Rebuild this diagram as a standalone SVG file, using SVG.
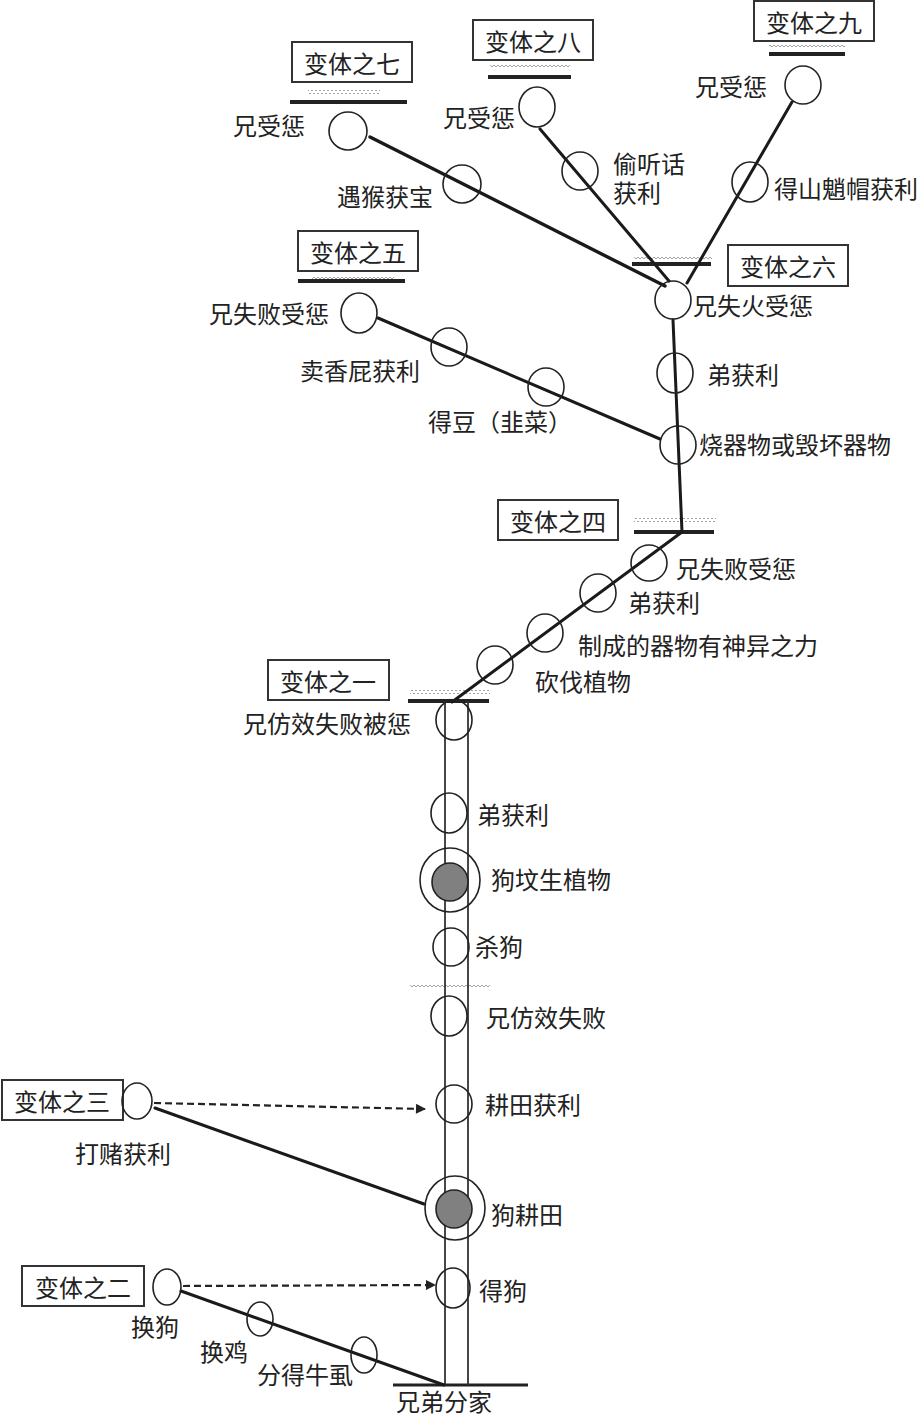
<svg xmlns="http://www.w3.org/2000/svg" width="921" height="1415" viewBox="0 0 921 1415">
<style>
text{font-family:"Noto Sans CJK SC","Liberation Sans",sans-serif;font-size:24px;fill:#222;dominant-baseline:central}
.bt{text-anchor:middle}
.box{fill:#fff;stroke:#333;stroke-width:2}
.nd{fill:none;stroke:#222;stroke-width:1.6}
.dot{fill:#808080;stroke:#222;stroke-width:1.6}
.edge{stroke:#1a1a1a;stroke-width:3;fill:none;stroke-linecap:round}
.bar{stroke:#222;stroke-width:4}
.trunk{stroke:#333;stroke-width:1.8}
.dash{stroke:#222;stroke-width:2.2;stroke-dasharray:7 4;fill:none}
.wv{fill:url(#wv)}
</style>
<defs>
<pattern id="wv" width="4" height="4" patternUnits="userSpaceOnUse"><path d="M0,3 L2,1 L4,3" fill="none" stroke="#999" stroke-width="0.9"/></pattern>
<marker id="arr" viewBox="0 0 10 10" refX="10" refY="5" markerWidth="13" markerHeight="10" markerUnits="userSpaceOnUse" orient="auto"><path d="M0,0 L10,5 L0,10 z" fill="#222"/></marker>
</defs>
<rect width="921" height="1415" fill="#fff"/>

<g id="connectors">
  <rect class="wv" x="308" y="90" width="72" height="4"/>
  <rect class="wv" x="490" y="65" width="80" height="4"/>
  <rect class="wv" x="769" y="43" width="76" height="4"/>
  <rect class="wv" x="312" y="275" width="82" height="4"/>
  <rect class="wv" x="634" y="257" width="78" height="4"/>
  <rect class="wv" x="634" y="518" width="82" height="4"/>
  <rect class="wv" x="410" y="690" width="80" height="4"/>
  <rect class="wv" x="410" y="984" width="80" height="4"/>
  <line class="bar" x1="290" y1="102" x2="407" y2="102"/>
  <line class="bar" x1="488" y1="77" x2="571" y2="77"/>
  <line class="bar" x1="769" y1="54" x2="845" y2="54"/>
  <line class="bar" x1="298" y1="281" x2="405" y2="281"/>
  <line class="bar" x1="632" y1="264" x2="711" y2="264"/>
  <line class="bar" x1="634" y1="532" x2="714" y2="532"/>
  <line class="bar" x1="408" y1="701" x2="489" y2="701"/>
  <line class="bar" x1="393" y1="1385" x2="528" y2="1385" style="stroke-width:3"/>
  <line class="edge" x1="370" y1="137" x2="665" y2="286" style="stroke-width:3.4"/>
  <line class="edge" x1="540" y1="129" x2="669" y2="281"/>
  <line class="edge" x1="792" y1="102" x2="687" y2="283"/>
  <line class="edge" x1="673" y1="320" x2="682" y2="532"/>
  <line class="edge" x1="378" y1="318" x2="660" y2="439"/>
  <line class="edge" x1="682" y1="532" x2="452" y2="702"/>
  <line class="trunk" x1="445" y1="701" x2="445" y2="1385"/>
  <line class="trunk" x1="468" y1="701" x2="468" y2="1385"/>
  <line class="dash" x1="154" y1="1103" x2="426" y2="1109" marker-end="url(#arr)"/>
  <line class="edge" x1="155" y1="1108" x2="424" y2="1204"/>
  <line class="dash" x1="183" y1="1286" x2="436" y2="1285" marker-end="url(#arr)"/>
  <line class="edge" x1="181" y1="1291" x2="444" y2="1385"/>
</g>

<g id="v7">
  <rect class="box" x="292" y="42" width="120" height="40"/>
  <text class="bt" x="352" y="62">变体之七</text>
</g>
<g id="n7a"><ellipse class="nd" cx="348" cy="131" rx="19" ry="19"/><text x="233" y="124">兄受惩</text></g>
<g id="n7b"><ellipse class="nd" cx="462" cy="184" rx="19" ry="19"/><text x="337" y="195">遇猴获宝</text></g>

<g id="v8">
  <rect class="box" x="473" y="20" width="120" height="40"/>
  <text class="bt" x="533" y="40">变体之八</text>
</g>
<g id="n8a"><ellipse class="nd" cx="537" cy="107" rx="18" ry="20"/><text x="443" y="116">兄受惩</text></g>
<g id="n8b"><ellipse class="nd" cx="580" cy="171" rx="18" ry="19"/><text x="613" y="162"><tspan x="613" y="162">偷听话</tspan><tspan x="613" y="191">获利</tspan></text></g>

<g id="v9">
  <rect class="box" x="754" y="1" width="120" height="40"/>
  <text class="bt" x="814" y="21">变体之九</text>
</g>
<g id="n9a"><ellipse class="nd" cx="803" cy="85" rx="18" ry="19"/><text x="695" y="85">兄受惩</text></g>
<g id="n9b"><ellipse class="nd" cx="750" cy="182" rx="18" ry="20"/><text x="774" y="187">得山魈帽获利</text></g>

<g id="v6">
  <rect class="box" x="728" y="245" width="120" height="41"/>
  <text class="bt" x="788" y="265">变体之六</text>
</g>
<g id="n6a"><ellipse class="nd" cx="673" cy="300" rx="18" ry="19"/><text x="693" y="304">兄失火受惩</text></g>
<g id="n6b"><ellipse class="nd" cx="675" cy="373" rx="18" ry="20"/><text x="707" y="373">弟获利</text></g>
<g id="n6c"><ellipse class="nd" cx="678" cy="445" rx="18" ry="19"/><text x="699" y="443">烧器物或毁坏器物</text></g>

<g id="v5">
  <rect class="box" x="298" y="231" width="120" height="40"/>
  <text class="bt" x="358" y="251">变体之五</text>
</g>
<g id="n5a"><ellipse class="nd" cx="359" cy="313" rx="18" ry="20"/><text x="209" y="312">兄失败受惩</text></g>
<g id="n5b"><ellipse class="nd" cx="449" cy="347" rx="18" ry="19"/><text x="300" y="369">卖香屁获利</text></g>
<g id="n5c"><ellipse class="nd" cx="546" cy="387" rx="18" ry="19"/><text x="428" y="420">得豆（韭菜）</text></g>

<g id="v4">
  <rect class="box" x="498" y="500" width="120" height="40"/>
  <text class="bt" x="558" y="520">变体之四</text>
</g>
<g id="n4a"><ellipse class="nd" cx="649" cy="563" rx="18" ry="18"/><text x="676" y="567">兄失败受惩</text></g>
<g id="n4b"><ellipse class="nd" cx="598" cy="593" rx="18" ry="19"/><text x="628" y="601">弟获利</text></g>
<g id="n4c"><ellipse class="nd" cx="545" cy="633" rx="18" ry="19"/><text x="578" y="644">制成的器物有神异之力</text></g>
<g id="n4d"><ellipse class="nd" cx="495" cy="665" rx="18" ry="19"/><text x="535" y="680">砍伐植物</text></g>

<g id="v1">
  <rect class="box" x="268" y="660" width="121" height="40"/>
  <text class="bt" x="328" y="680">变体之一</text>
</g>
<g id="n1a"><ellipse class="nd" cx="454" cy="720" rx="18" ry="20"/><text x="243" y="722">兄仿效失败被惩</text></g>
<g id="n1b"><ellipse class="nd" cx="449" cy="813" rx="18" ry="20"/><text x="477" y="813">弟获利</text></g>
<g id="n1c"><ellipse class="nd" cx="450" cy="880" rx="30" ry="32"/><ellipse class="dot" cx="450" cy="882" rx="18" ry="19"/><text x="491" y="878">狗坟生植物</text></g>
<g id="n1d"><ellipse class="nd" cx="451" cy="947" rx="18" ry="19"/><text x="475" y="945">杀狗</text></g>
<g id="n1e"><ellipse class="nd" cx="449" cy="1016" rx="18" ry="20"/><text x="486" y="1016">兄仿效失败</text></g>
<g id="n1f"><ellipse class="nd" cx="454" cy="1104" rx="18" ry="19"/><text x="485" y="1103">耕田获利</text></g>
<g id="n1g"><ellipse class="nd" cx="455" cy="1208" rx="30" ry="32"/><ellipse class="dot" cx="454" cy="1209" rx="18" ry="19"/><text x="491" y="1213">狗耕田</text></g>
<g id="n1h"><ellipse class="nd" cx="453" cy="1288" rx="17" ry="20"/><text x="479" y="1289">得狗</text></g>
<g id="root"><text x="396" y="1400">兄弟分家</text></g>

<g id="v3">
  <rect class="box" x="2" y="1080" width="121" height="40"/>
  <text class="bt" x="62" y="1100">变体之三</text>
</g>
<g id="n3a"><ellipse class="nd" cx="137" cy="1101" rx="15" ry="18"/><text x="75" y="1152">打赌获利</text></g>

<g id="v2">
  <rect class="box" x="22" y="1266" width="122" height="40"/>
  <text class="bt" x="83" y="1286">变体之二</text>
</g>
<g id="n2a"><ellipse class="nd" cx="167" cy="1287" rx="14" ry="18"/><text x="131" y="1325">换狗</text></g>
<g id="n2b"><ellipse class="nd" cx="260" cy="1319" rx="13" ry="17"/><text x="200" y="1350">换鸡</text></g>
<g id="n2c"><ellipse class="nd" cx="364" cy="1355" rx="13" ry="18"/><text x="257" y="1373">分得牛虱</text></g>
</svg>
